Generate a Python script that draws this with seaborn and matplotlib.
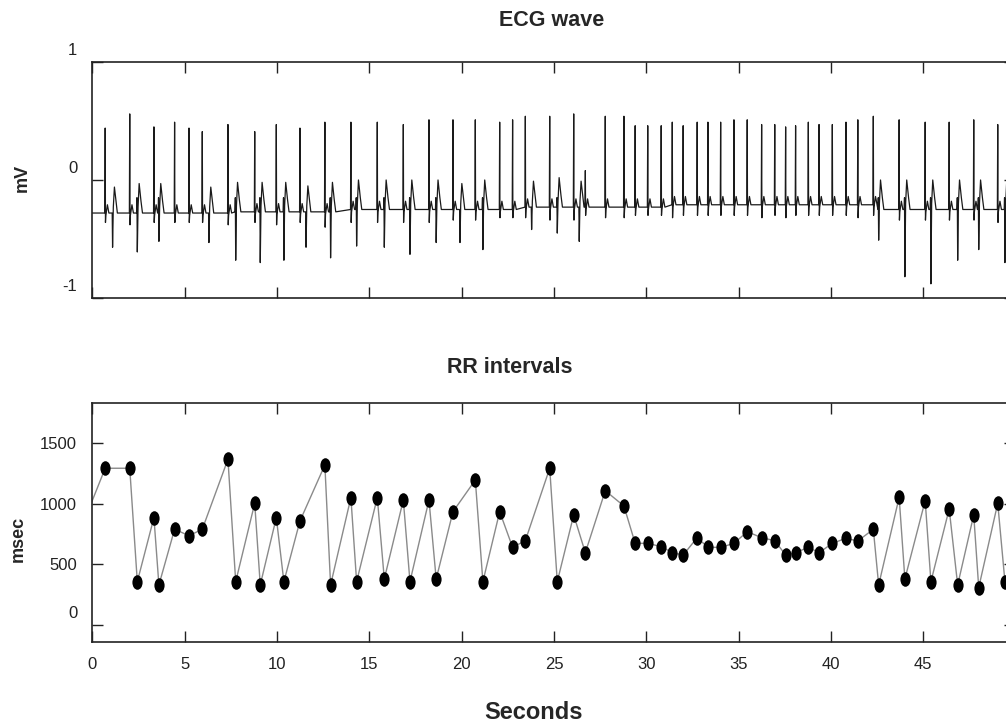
import matplotlib
matplotlib.use("Agg")
import matplotlib.pyplot as plt
import pandas as pd
import seaborn as sns
from matplotlib.path import Path
from matplotlib.transforms import Affine2D, ScaledTranslation

# ---- Beats: time (s) and RR interval (msec)
beat_t = [-0.60, 0.69, 2.02, 2.43, 3.33, 3.60, 4.45, 5.23, 5.95, 7.34,
          7.76, 8.79, 9.09, 9.96, 10.37, 11.24, 12.59, 12.90, 14.00, 14.31,
          15.43, 15.81, 16.84, 17.20, 18.23, 18.62, 19.53, 20.74, 21.15, 22.06,
          22.76, 23.45, 24.77, 25.18, 26.07, 26.70, 27.78, 28.79, 29.40, 30.08,
          30.81, 31.41, 32.00, 32.76, 33.34, 34.03, 34.75, 35.47, 36.25, 36.96,
          37.55, 38.09, 38.78, 39.36, 40.08, 40.82, 41.46, 42.30, 42.59, 43.70,
          44.01, 45.11, 45.42, 46.41, 46.87, 47.74, 48.01, 49.04, 49.43]
rr_ms = [800, 1292, 1292, 357, 885, 330, 789, 736, 789, 1366,
         357, 1003, 330, 885, 357, 857, 1319, 330, 1050, 357,
         1050, 379, 1030, 357, 1030, 379, 934, 1195, 357, 934,
         640, 695, 1292, 357, 907, 596, 1107, 981, 673, 673,
         646, 596, 577, 720, 640, 640, 673, 769, 720, 695,
         577, 596, 640, 596, 673, 715, 692, 789, 330, 1052,
         379, 1025, 357, 956, 330, 907, 308, 1003, 357]

# ---- ECG deflections per beat (mV): R peak, S trough, baseline
ecg_r = [0.45, 0.44, 0.56, -0.15, 0.45, -0.15, 0.49, 0.44, 0.41, 0.47,
         -0.15, 0.41, -0.15, 0.47, -0.15, 0.44, 0.49, -0.15, 0.49, -0.15,
         0.49, -0.15, 0.47, -0.15, 0.51, -0.15, 0.51, 0.51, -0.15, 0.49,
         0.51, 0.54, 0.54, -0.15, 0.56, 0.08, 0.54, 0.54, 0.46, 0.46,
         0.46, 0.49, 0.46, 0.49, 0.49, 0.49, 0.51, 0.51, 0.47, 0.47,
         0.45, 0.46, 0.49, 0.47, 0.47, 0.49, 0.51, 0.54, -0.15, 0.51,
         -0.15, 0.49, -0.15, 0.49, -0.15, 0.51, -0.15, 0.47, -0.15]
ecg_s = [-0.36, -0.36, -0.38, -0.61, -0.36, -0.52, -0.36, -0.36, -0.36, -0.38,
         -0.68, -0.36, -0.70, -0.38, -0.68, -0.36, -0.40, -0.66, -0.36, -0.56,
         -0.36, -0.57, -0.36, -0.63, -0.36, -0.53, -0.34, -0.34, -0.59, -0.32,
         -0.32, -0.32, -0.34, -0.45, -0.34, -0.30, -0.32, -0.32, -0.30, -0.30,
         -0.30, -0.32, -0.30, -0.30, -0.30, -0.30, -0.30, -0.30, -0.32, -0.30,
         -0.32, -0.30, -0.30, -0.30, -0.30, -0.30, -0.32, -0.30, -0.51, -0.34,
         -0.82, -0.34, -0.88, -0.34, -0.68, -0.34, -0.59, -0.36, -0.70]
ecg_base = [-0.28, -0.28, -0.28, -0.28, -0.28, -0.28, -0.28, -0.28, -0.28, -0.28,
            -0.27, -0.27, -0.27, -0.27, -0.27, -0.27, -0.27, -0.27, -0.25, -0.25,
            -0.25, -0.25, -0.25, -0.25, -0.25, -0.25, -0.25, -0.25, -0.25, -0.25,
            -0.25, -0.23, -0.23, -0.23, -0.23, -0.23, -0.23, -0.23, -0.23, -0.23,
            -0.23, -0.21, -0.21, -0.21, -0.21, -0.21, -0.21, -0.21, -0.21, -0.21,
            -0.21, -0.21, -0.21, -0.21, -0.21, -0.21, -0.21, -0.21, -0.25, -0.25,
            -0.25, -0.25, -0.25, -0.25, -0.25, -0.25, -0.25, -0.25, -0.25]

# downward spikes with no RR dot
extra_t = [1.09, 6.31, 11.57, 19.91, 23.79, 26.37]
extra_s = [-0.57, -0.53, -0.57, -0.53, -0.42, -0.52]

x_ticks = [0, 5, 10, 15, 20, 25, 30, 35, 40, 45]
rr_ticks = [0, 500, 1000, 1500]
ecg_ticks = [-1, 0, 1]

# ---- Build the ECG trace from the beats
pts = [(-1.0, ecg_base[0])]
for t, r, s, b, rr in zip(beat_t, ecg_r, ecg_s, ecg_base, rr_ms):
    if rr < 450:
        pts += [(t - 0.04, b), (t - 0.02, r), (t, s), (t + 0.04, b + 0.05),
                (t + 0.10, b + 0.25), (t + 0.20, b + 0.10), (t + 0.28, b)]
    else:
        pts += [(t - 0.02, b), (t, r), (t + 0.015, s), (t + 0.035, b - 0.02),
                (t + 0.12, b + 0.07), (t + 0.20, b)]
for t, s in zip(extra_t, extra_s):
    b = ecg_base[sum(bt < t for bt in beat_t) - 1]
    pts += [(t - 0.02, b), (t, s), (t + 0.04, b + 0.05),
            (t + 0.10, b + 0.22), (t + 0.20, b + 0.08), (t + 0.26, b)]
pts.append((51.0, ecg_base[-1]))
ecg_df = pd.DataFrame(sorted(pts), columns=["t", "mv"])
rr_df = pd.DataFrame({"t": beat_t, "rr": rr_ms})

# ---- Style
sns.set_style("ticks")
plt.rcParams["font.family"] = ["Liberation Sans", "DejaVu Sans"]

fig = plt.figure(figsize=(10.06, 7.24), dpi=100)
ax_ecg = fig.add_axes([0.0919, 0.5884, 0.9175, 0.326])
ax_rr = fig.add_axes([0.0919, 0.1133, 0.9175, 0.3301])

# ---- ECG panel
sns.lineplot(data=ecg_df, x="t", y="mv", ax=ax_ecg, color="#1a1a1a",
             linewidth=0.9, sort=False, estimator=None)
ax_ecg.set_ylim(-1, 1)
ax_ecg.set_yticks(ecg_ticks)
ax_ecg.set_yticklabels([str(v) for v in ecg_ticks])

# ---- RR panel
sns.lineplot(data=rr_df, x="t", y="rr", ax=ax_rr, color="#8a8a8a",
             linewidth=1.0, sort=False, estimator=None)
oval = Path.unit_circle().transformed(Affine2D().scale(0.7, 1.0))
sns.scatterplot(data=rr_df, x="t", y="rr", ax=ax_rr, color="black",
                marker=oval, s=110, linewidth=0, zorder=3)
ax_rr.set_ylim(-140, 1830)
ax_rr.set_yticks(rr_ticks)
ax_rr.set_yticklabels([str(v) for v in rr_ticks])

for ax in (ax_ecg, ax_rr):
    ax.set_xlim(0, 50)
    ax.set_xticks(x_ticks)
    ax.set_xlabel("")
    ax.set_ylabel("")
    ax.tick_params(direction="in", length=8, width=1, top=True, right=True,
                   labelsize=12, pad=11, colors="#222222")
    for sp in ax.spines.values():
        sp.set_linewidth(1.2)
        sp.set_color("#222222")
ax_ecg.tick_params(labelbottom=False)
ax_rr.set_xticklabels([str(v) for v in x_ticks])

# y labels in the source sit a little above their ticks
shift = ScaledTranslation(0, 0.13, fig.dpi_scale_trans)
for lab in ax_ecg.get_yticklabels():
    lab.set_transform(lab.get_transform() + shift)
rr_zero = ax_rr.get_yticklabels()[0]
rr_zero.set_transform(rr_zero.get_transform() + shift)

# ---- Titles and axis labels
fig.text(0.548, 0.972, "ECG wave", ha="center", va="center",
         fontsize=15.5, fontweight="bold")
fig.text(0.507, 0.492, "RR intervals", ha="center", va="center",
         fontsize=15.5, fontweight="bold")
fig.text(0.530, 0.016, "Seconds", ha="center", va="center",
         fontsize=17, fontweight="bold")
fig.text(0.022, 0.754, "mV", ha="center", va="center", rotation=90,
         fontsize=13, fontweight="bold")
fig.text(0.018, 0.255, "msec", ha="center", va="center", rotation=90,
         fontsize=13, fontweight="bold")

fig.savefig("out.png", dpi=100)
